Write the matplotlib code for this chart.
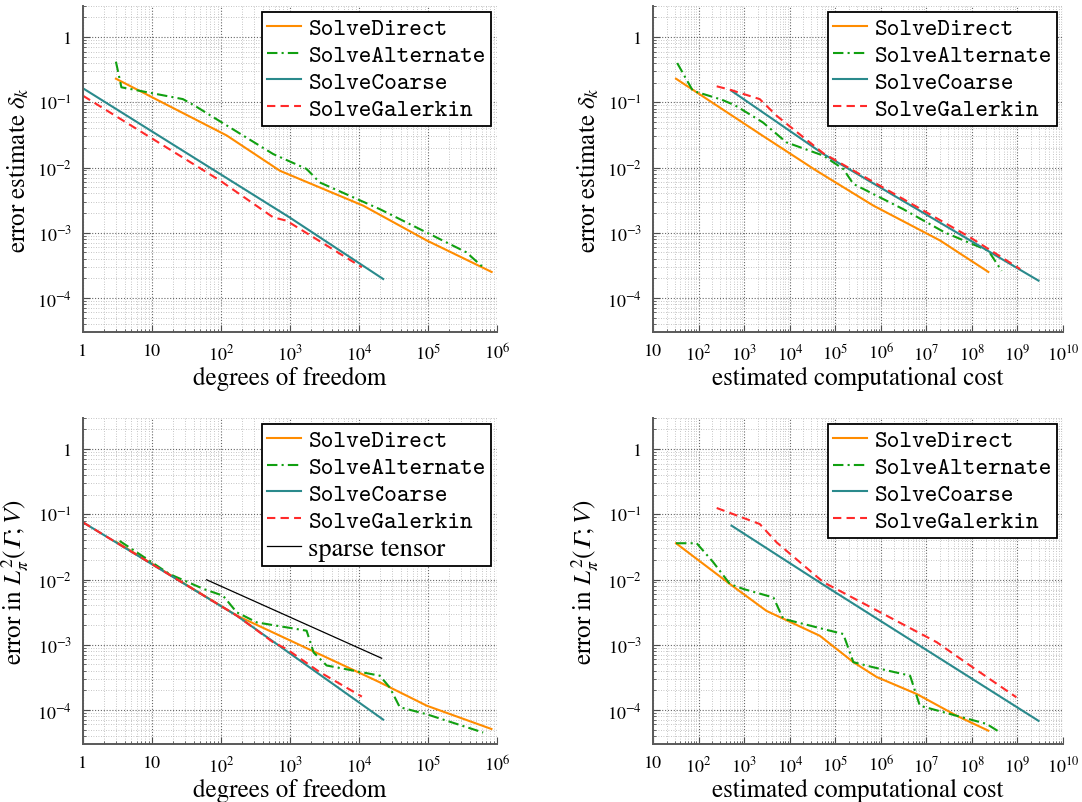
import matplotlib
matplotlib.use("Agg")
import matplotlib.pyplot as plt
from matplotlib.ticker import FixedLocator, LogLocator, NullFormatter

# ---- data ----
# top left: error estimate vs degrees of freedom
tl_direct_x = [3, 121, 716, 11500, 96000, 836000]
tl_direct_y = [0.23, 0.031, 0.0089, 0.0026, 7.6e-4, 2.5e-4]
tl_alt_x = [3, 3.6, 28, 40, 100, 290, 570, 1740, 2700, 20000, 95000, 360000, 670000]
tl_alt_y = [0.42, 0.17, 0.112, 0.091, 0.05, 0.025, 0.0161, 0.0095, 0.0059, 0.0023, 0.00101, 5.0e-4, 2.77e-4]
tl_coarse_x = [1, 1000, 22400]
tl_coarse_y = [0.164, 0.0017, 1.95e-4]
tl_galerkin_x = [1, 97, 570, 890, 11000]
tl_galerkin_y = [0.126, 0.0063, 0.00172, 0.00153, 2.95e-4]

# top right: error estimate vs estimated cost
tr_direct_x = [32, 2500, 39000, 6.9e5, 2.0e7, 2.3e8]
tr_direct_y = [0.23, 0.031, 0.0089, 0.0026, 7.6e-4, 2.5e-4]
tr_alt_x = [34, 75, 320, 630, 2600, 8500, 55000, 1.5e5, 2.5e5, 3.1e6, 2.6e7, 2.3e8, 4.5e8]
tr_alt_y = [0.40, 0.15, 0.11, 0.09, 0.049, 0.0243, 0.0152, 0.0095, 0.0056, 0.0023, 0.001, 5.3e-4, 2.6e-4]
tr_coarse_x = [530, 55000, 2.9e9]
tr_coarse_y = [0.15, 0.0161, 1.84e-4]
tr_galerkin_x = [250, 490, 2200, 5200, 55000, 9.1e7, 1.15e9]
tr_galerkin_y = [0.176, 0.156, 0.112, 0.062, 0.0165, 8.5e-4, 2.77e-4]

# bottom left: L2 error vs degrees of freedom
bl_direct_x = [3, 169, 20000, 96000, 830000]
bl_direct_y = [0.038, 0.0028, 2.65e-4, 1.16e-4, 5.1e-5]
bl_alt_x = [3.4, 18, 56, 107, 169, 330, 1740, 2200, 3400, 20000, 28000, 39000, 95000, 630000]
bl_alt_y = [0.039, 0.0121, 0.00715, 0.00565, 0.00314, 0.0022, 0.00164, 7.6e-4, 4.8e-4, 3.35e-4,
            2.2e-4, 1.1e-4, 8.6e-5, 4.5e-5]
bl_coarse_x = [1, 169, 22400]
bl_coarse_y = [0.0753, 0.00279, 7.1e-5]
bl_galerkin_x = [1, 169, 570, 890, 2700, 11000]
bl_galerkin_y = [0.0753, 0.0028, 0.00109, 8.6e-4, 3.8e-4, 1.6e-4]
bl_sparse_x = [62, 21300]
bl_sparse_y = [0.0099, 6.2e-4]

# bottom right: L2 error vs estimated cost
br_direct_x = [32, 490, 3100, 46000, 2.5e5, 8.1e5, 6.2e6, 4.7e7, 2.3e8]
br_direct_y = [0.036, 0.0085, 0.0033, 0.00137, 5.4e-4, 3.2e-4, 1.75e-4, 8.1e-5, 4.8e-5]
br_alt_x = [32, 91, 210, 490, 1000, 4400, 7200, 55000, 1.5e5, 2.5e5, 6.9e5, 4.4e6, 7.2e6,
            4.7e7, 2.1e8, 4.2e8]
br_alt_y = [0.036, 0.036, 0.0184, 0.0085, 0.0071, 0.0053, 0.0025, 0.00174, 0.00146, 5.4e-4,
            4.5e-4, 3.35e-4, 1.16e-4, 8.1e-5, 6.1e-5, 4.5e-5]
br_coarse_x = [530, 55000, 2.9e9]
br_coarse_y = [0.067, 0.0083, 6.8e-5]
br_galerkin_x = [250, 2200, 5200, 55000, 1.7e7, 9.1e7, 9.5e8]
br_galerkin_y = [0.125, 0.071, 0.037, 0.0091, 0.00109, 4.8e-4, 1.56e-4]

labels = ["SolveDirect", "SolveAlternate", "SolveCoarse", "SolveGalerkin"]
dof_ticks = [1, 10, 1e2, 1e3, 1e4, 1e5, 1e6]
dof_ticklabels = ["1", "10", "$10^{2}$", "$10^{3}$", "$10^{4}$", "$10^{5}$", "$10^{6}$"]
cost_ticks = [10 ** k for k in range(1, 11)]
cost_ticklabels = ["10"] + ["$10^{%d}$" % k for k in range(2, 11)]
err_ticks = [1e-4, 1e-3, 1e-2, 1e-1, 1]
err_ticklabels = ["$10^{-4}$", "$10^{-3}$", "$10^{-2}$", "$10^{-1}$", "1"]

plt.rcParams["font.family"] = "serif"
plt.rcParams["font.serif"] = ["STIXGeneral", "Liberation Serif", "DejaVu Serif"]
plt.rcParams["mathtext.fontset"] = "stix"

C_ORANGE = "#ff8c00"
C_GREEN = "#11a011"
C_TEAL = "#2a8a8c"
C_RED = "#ff2a2a"
LW = 1.5

fig = plt.figure(figsize=(10.82, 8.03), dpi=100)
W, H = 1082.0, 803.0


def make_ax(left, top, right, bottom):
    return fig.add_axes([left / W, 1 - bottom / H, (right - left) / W, (bottom - top) / H])


def style(ax, xticks, xticklabels, xlim, xlabel, ylabel):
    ax.set_xscale("log")
    ax.set_yscale("log")
    ax.set_xlim(*xlim)
    ax.set_ylim(3e-5, 3)
    ax.xaxis.set_major_locator(FixedLocator(xticks))
    ax.set_xticklabels(xticklabels)
    ax.yaxis.set_major_locator(FixedLocator(err_ticks))
    ax.set_yticklabels(err_ticklabels)
    ax.xaxis.set_minor_locator(LogLocator(base=10, subs=range(2, 10), numticks=20))
    ax.yaxis.set_minor_locator(LogLocator(base=10, subs=range(2, 10), numticks=20))
    ax.xaxis.set_minor_formatter(NullFormatter())
    ax.yaxis.set_minor_formatter(NullFormatter())
    ax.grid(which="major", linestyle=(0, (1, 1.6)), linewidth=0.8, color="0.4")
    ax.grid(which="minor", linestyle=(0, (1, 2)), linewidth=0.6, color="0.7")
    ax.set_axisbelow(True)
    for s in ["top", "right"]:
        ax.spines[s].set_visible(False)
    for s in ["left", "bottom"]:
        ax.spines[s].set_color("0.35")
        ax.spines[s].set_linewidth(1.4)
    ax.tick_params(which="both", direction="in", top=False, right=False, labelsize=13,
                   color="0.3")
    ax.tick_params(which="major", length=5, pad=8)
    ax.tick_params(which="minor", length=2.5)
    ax.set_xlabel(xlabel, fontsize=18, labelpad=2)
    ax.set_ylabel(ylabel, fontsize=18, labelpad=4)


def legend(ax, sparse=False):
    leg = ax.legend(loc="upper right", prop={"family": "cmtt10", "size": 17.4},
                    frameon=True, fancybox=False, framealpha=1, edgecolor="black",
                    handlelength=1.4, handletextpad=0.3, labelspacing=0.16,
                    borderpad=0.22, borderaxespad=0.25)
    leg.get_frame().set_linewidth(1.3)
    if sparse:
        leg.get_texts()[-1].set_fontfamily("serif")
        leg.get_texts()[-1].set_fontsize(19)
    return leg


def draw(ax, dx, dy, ax_, ay, cx, cy, gx, gy):
    ax.plot(dx, dy, color=C_ORANGE, lw=LW, label=labels[0])
    ax.plot(ax_, ay, color=C_GREEN, lw=LW, ls=(0, (5, 2, 1, 2)), label=labels[1])
    ax.plot(cx, cy, color=C_TEAL, lw=LW, label=labels[2])
    ax.plot(gx, gy, color=C_RED, lw=LW, ls=(0, (4, 2.5)), label=labels[3])


l2_label = "error in $L^2_\\pi(\U0001D6E4;V)$"

ax1 = make_ax(83, 7, 497, 333)
draw(ax1, tl_direct_x, tl_direct_y, tl_alt_x, tl_alt_y, tl_coarse_x, tl_coarse_y,
     tl_galerkin_x, tl_galerkin_y)
style(ax1, dof_ticks, dof_ticklabels, (1, 1e6), "degrees of freedom",
      r"error estimate $\delta_k$")
legend(ax1)

ax2 = make_ax(653, 7, 1063, 333)
draw(ax2, tr_direct_x, tr_direct_y, tr_alt_x, tr_alt_y, tr_coarse_x, tr_coarse_y,
     tr_galerkin_x, tr_galerkin_y)
style(ax2, cost_ticks, cost_ticklabels, (10, 1e10), "estimated computational cost",
      r"error estimate $\delta_k$")
legend(ax2)

ax3 = make_ax(83, 419, 497, 745)
draw(ax3, bl_direct_x, bl_direct_y, bl_alt_x, bl_alt_y, bl_coarse_x, bl_coarse_y,
     bl_galerkin_x, bl_galerkin_y)
ax3.plot(bl_sparse_x, bl_sparse_y, color="black", lw=0.9, label="sparse tensor")
style(ax3, dof_ticks, dof_ticklabels, (1, 1e6), "degrees of freedom", l2_label)
legend(ax3, sparse=True)

ax4 = make_ax(653, 419, 1063, 745)
draw(ax4, br_direct_x, br_direct_y, br_alt_x, br_alt_y, br_coarse_x, br_coarse_y,
     br_galerkin_x, br_galerkin_y)
style(ax4, cost_ticks, cost_ticklabels, (10, 1e10), "estimated computational cost", l2_label)
legend(ax4)

fig.savefig("out.png", dpi=100)
